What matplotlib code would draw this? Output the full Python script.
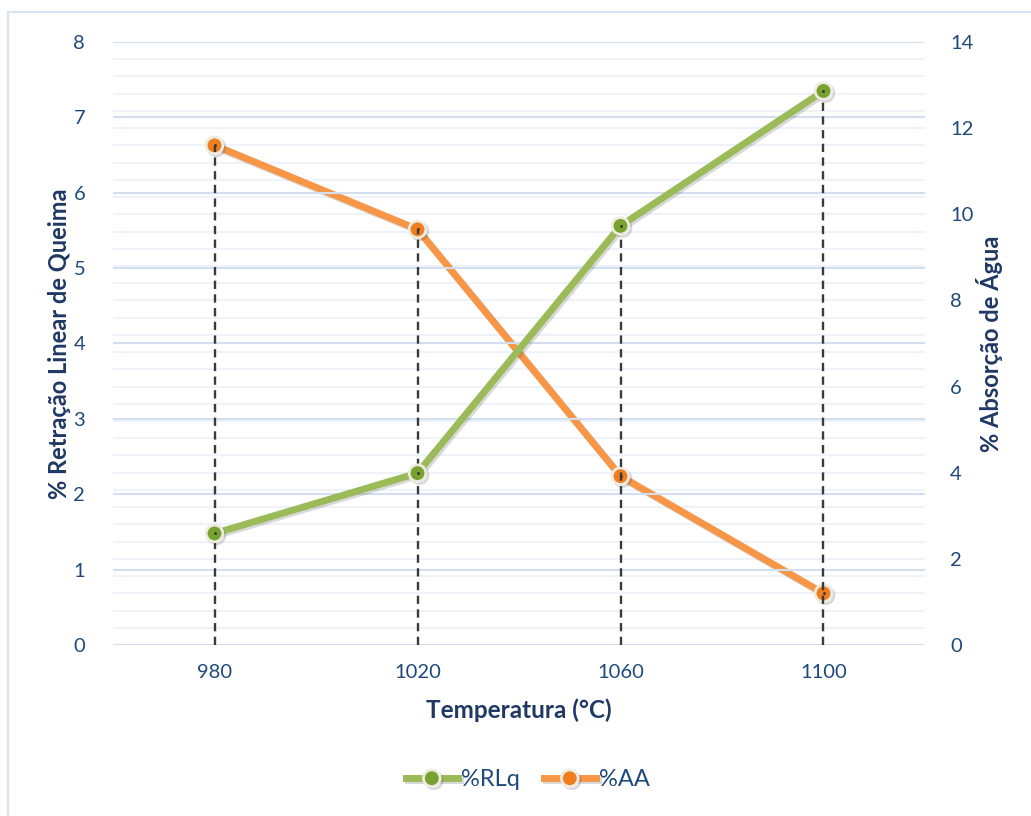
import numpy as np
import matplotlib.pyplot as plt
import matplotlib.patheffects as pe
from matplotlib.patches import Rectangle

temps = ['980', '1020', '1060', '1100']
rlq = [1.48, 2.28, 5.56, 7.35]
aa = [11.6, 9.65, 3.92, 1.2]

green = '#9BBB59'
green_dark = '#77A22F'
orange = '#F79646'
orange_dark = '#EE7E1E'
text_col = '#1F497D'
label_col = '#1F3864'

plt.rcParams['font.family'] = ['Lato', 'DejaVu Sans']

fig = plt.figure(figsize=(10.31, 8.16), dpi=100)
fig.patches.append(Rectangle((8/1031, -0.01), 1.0, 1 - 12/816 + 0.01, transform=fig.transFigure,
                             fill=False, edgecolor='#D5E3F3', lw=1.5))
ax = fig.add_axes([113/1031, 171/816, 812/1031, 603/816])
ax2 = ax.twinx()

x = np.arange(len(temps))
ax.set_xlim(-0.5, 3.5)
ax.set_ylim(0, 8)
ax2.set_ylim(0, 14)

# gridlines: right axis minor every 0.4, left major each unit
for v in np.arange(0, 14.01, 0.4):
    ax2.axhline(v, color='#EEF3FA', lw=1.5, zorder=0)
for v in range(0, 9):
    ax.axhline(v, color='#D3DFF0', lw=1.5, zorder=0.5)

# drop lines
scale = 14 / 8
for i in x:
    top = max(rlq[i], aa[i] / scale)
    ax.plot([i, i], [0, top], color='#3A3A3A', ls=(0, (3.5, 2.3)), lw=1.7, zorder=1)

shadow = [pe.SimpleLineShadow(offset=(1.5, -1.5), alpha=0.2, shadow_color='#444444'), pe.Normal()]

ax.plot(x, rlq, color=green, lw=5, marker='o', ms=12, mfc=green_dark, mec='#EEECE1', mew=2,
        label='%RLq', zorder=3, path_effects=shadow)
ax2.plot(x, aa, color=orange, lw=5, marker='o', ms=12, mfc=orange_dark, mec='#EEECE1', mew=2,
         label='%AA', zorder=3, path_effects=shadow)
for i in x:
    ax.plot(i, rlq[i], marker='.', ms=2, color='#333333', zorder=4)
    ax2.plot(i, aa[i], marker='.', ms=2, color='#333333', zorder=4)

ax.set_zorder(ax2.get_zorder() + 1)
ax.patch.set_visible(False)

ax.set_xticks(x)
ax.set_xticklabels(temps)
ax.set_yticks(range(0, 9))
ax2.set_yticks(range(0, 15, 2))
for a in (ax, ax2):
    for s in a.spines.values():
        s.set_visible(False)
    a.tick_params(length=0, labelsize=14.5, labelcolor=text_col)
ax.tick_params(axis='y', pad=20)
ax2.tick_params(axis='y', pad=18)
ax.tick_params(axis='x', pad=14)

ax.set_xlabel('Temperatura (°C)', fontsize=17.5, fontweight='bold', color=label_col, labelpad=12)
ax.set_ylabel('% Retração Linear de Queima', fontsize=17, fontweight='bold', color=label_col, labelpad=2)
ax2.set_ylabel('% Absorção de Água', fontsize=17, fontweight='bold', color=label_col, labelpad=2)

h1, l1 = ax.get_legend_handles_labels()
h2, l2 = ax2.get_legend_handles_labels()
fig.legend(h1 + h2, l1 + l2, loc='center', bbox_to_anchor=(528/1031, 1 - 780/816), ncol=2,
           frameon=False, fontsize=17, labelcolor=text_col, handlelength=2.2, columnspacing=1.0,
           handletextpad=0.15)

fig.savefig('out.png', dpi=100)
